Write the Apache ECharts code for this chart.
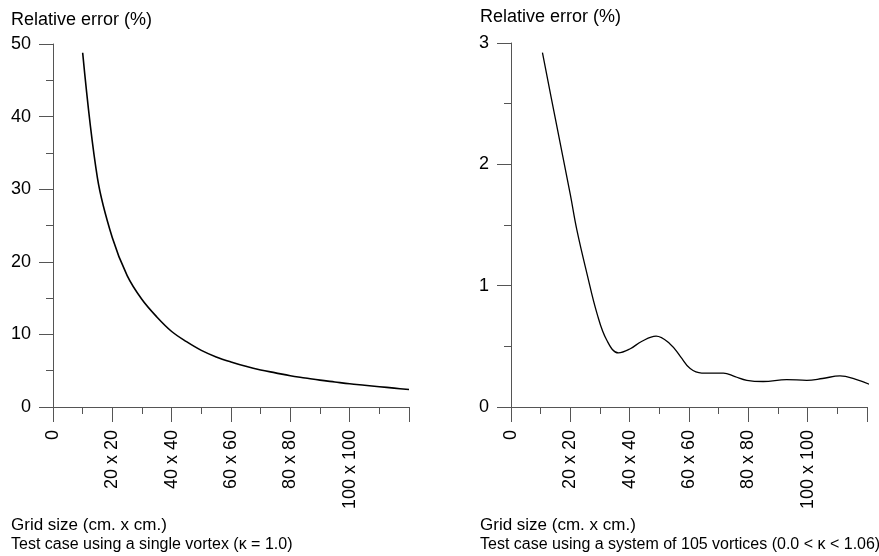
<!DOCTYPE html>
<html>
<head>
<meta charset="utf-8">
<script src="https://cdn.jsdelivr.net/npm/echarts@6/dist/echarts.min.js"></script>
<style>html,body{margin:0;padding:0;background:#fff}#c{width:879px;height:556px}</style>
</head>
<body>
<div id="c"></div>
<script>
// Left panel: single vortex
const leftX = [10, 15, 20, 25, 30, 35, 40, 45, 50, 55, 60, 65, 70, 75, 80, 85, 90, 95, 100, 105, 110, 115, 120];
const leftY = [48.8, 31.5, 23.3, 18.1, 14.8, 12.4, 10.4, 9.0, 7.8, 6.9, 6.2, 5.6, 5.1, 4.7, 4.3, 4.0, 3.7, 3.45, 3.2, 3.0, 2.8, 2.6, 2.4];
// Right panel: system of 105 vortices
const rightX = [10.6, 15, 20, 22.2, 25.6, 29, 32.3, 36.2, 40.2, 44, 48.9, 53.6, 57, 60.4, 64.3, 68, 71.6, 75.5, 79.5, 85, 92.9, 99.7, 105, 110.9, 116, 121.5];
const rightY = [2.92, 2.37, 1.75, 1.46, 1.10, 0.77, 0.55, 0.446, 0.48, 0.54, 0.584, 0.52, 0.42, 0.317, 0.28, 0.28, 0.28, 0.25, 0.22, 0.21, 0.226, 0.22, 0.235, 0.256, 0.23, 0.18];
const xTickLabels = {0: '0', 20: '20 x 20', 40: '40 x 40', 60: '60 x 60', 80: '80 x 80', 100: '100 x 100'};
const yTitle = 'Relative error (%)';
const xTitle = 'Grid size (cm. x cm.)';
const leftCaption = 'Test case using a single vortex (\u03BA = 1.0)';
const rightCaption = 'Test case using a system of 105 vortices (0.0 < \u03BA < 1.06)';

const FONT = '"Liberation Sans", Arial, sans-serif';
const axisCol = '#555';

function pairs(xs, ys) { return xs.map((x, i) => [x, ys[i]]); }

function xAxis(gi) {
  return {
    type: 'value', gridIndex: gi, min: 0, max: 120, interval: 20,
    axisLine: {show: true, lineStyle: {color: axisCol, width: 1}},
    axisTick: {show: true, length: 15, lineStyle: {color: axisCol, width: 1}},
    minorTick: {show: true, splitNumber: 2, length: 7, lineStyle: {color: axisCol, width: 1}},
    splitLine: {show: false}, minorSplitLine: {show: false},
    axisLabel: {
      rotate: 90, margin: 23, color: '#000', fontSize: 18, fontFamily: FONT,
      formatter: v => xTickLabels[v] || ''
    }
  };
}
function yAxis(gi, max, interval) {
  return {
    type: 'value', gridIndex: gi, min: 0, max: max, interval: interval,
    axisLine: {show: true, lineStyle: {color: axisCol, width: 1}},
    axisTick: {show: true, length: 14, lineStyle: {color: axisCol, width: 1}},
    minorTick: {show: true, splitNumber: 2, length: 7, lineStyle: {color: axisCol, width: 1}},
    splitLine: {show: false}, minorSplitLine: {show: false},
    axisLabel: {margin: 22, color: '#000', fontSize: 18, fontFamily: FONT}
  };
}
function txt(x, y, s, size) {
  return {type: 'text', x: x, y: y, style: {text: s, fill: '#000', font: size + 'px ' + FONT, verticalAlign: 'middle', align: 'left'}};
}

const chart = echarts.init(document.getElementById('c'));
chart.setOption({
  animation: false,
  grid: [
    {left: 53, right: 470, top: 44, bottom: 149},
    {left: 511, right: 12, top: 43, bottom: 149}
  ],
  xAxis: [xAxis(0), xAxis(1)],
  yAxis: [yAxis(0, 50, 10), yAxis(1, 3, 1)],
  series: [
    {type: 'line', xAxisIndex: 0, yAxisIndex: 0, data: pairs(leftX, leftY), smooth: 0.35, symbol: 'none', clip: false,
     lineStyle: {color: '#000', width: 1.6}},
    {type: 'line', xAxisIndex: 1, yAxisIndex: 1, data: pairs(rightX, rightY), smooth: 0.4, symbol: 'none', clip: false,
     lineStyle: {color: '#000', width: 1.3}}
  ],
  graphic: [
    txt(11, 20, yTitle, 18),
    txt(480, 17, yTitle, 18),
    txt(11, 525, xTitle, 17),
    txt(11, 545, leftCaption, 16),
    txt(480, 525, xTitle, 17),
    txt(480, 545, rightCaption, 16)
  ]
});
</script>
</body>
</html>
